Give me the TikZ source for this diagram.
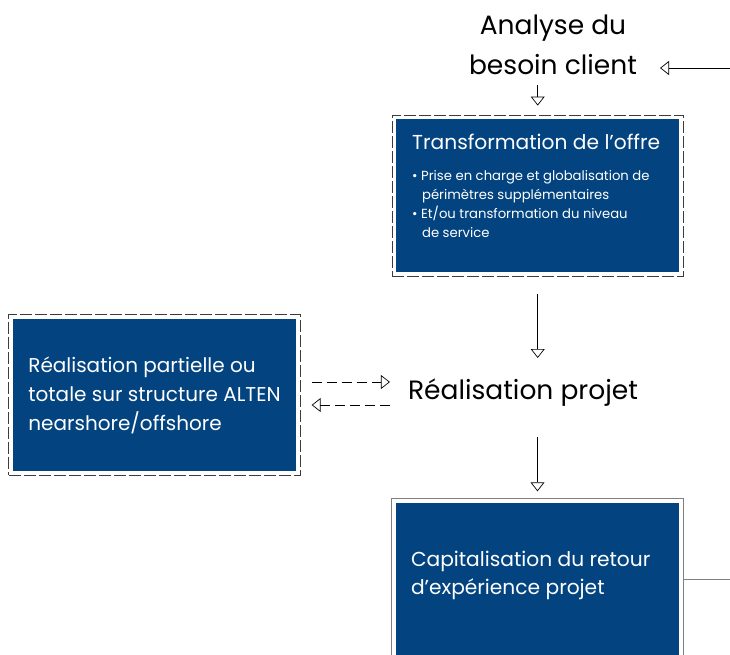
\documentclass[tikz,border=0pt]{standalone}
\usepackage{fontspec}
\setmainfont{Poppins}
\usetikzlibrary{arrows.meta,positioning,fit}
\definecolor{altenblue}{RGB}{3,68,128}
\definecolor{framegray}{RGB}{60,60,60}
\tikzset{
    blue box/.style={
        fill = altenblue,
        text = white,
        inner sep = 0pt
    },
    dash frame/.style={
        draw = framegray,
        line width = 0.9pt,
        dash pattern = on 12pt off 3pt,
        inner sep = 4pt
    },
    plain frame/.style={
        draw = gray,
        line width = 1pt,
        inner sep = 4pt
    },
    flow/.style={
        draw = black,
        line width = 0.7pt,
        -{Triangle[open, width=14pt, length=9pt]}
    },
    step label/.style={
        font = \fontsize{26.5}{40}\selectfont,
        inner sep = 0pt,
        align = center
    }
}
\newcommand{\bul}{\textbullet\ }

\begin{document}
\begin{tikzpicture}[x=1pt, y=-1pt]
    \clip (0,0) rectangle (730,654);

    % top of the chain
    \node[step label] (analyse) at (553,45) {Analyse du\\besoin client};
    \coordinate (entry) at (730,68);
    \coordinate (entrytip) at (660,68);

    % offer box
    \node[blue box, minimum width=283, minimum height=153, anchor=north west] (offre) at (396,119) {};
    \node[dash frame, fit=(offre)] (offreframe) {};
    \node[text=white, inner sep=0pt, align=left, anchor=north west,
          font=\fontsize{20.2}{22}\selectfont,
          below right=15pt and 16pt of offre.north west] (offretitle) {Transformation de l'offre};
    \node[text=white, inner sep=0pt, align=left, anchor=north west,
          font=\fontsize{13.2}{19}\selectfont,
          below right=20pt and 0pt of offretitle.south west] (offretext)
          {\bul Prise en charge et globalisation de\\
           \hspace*{0.75em}périmètres supplémentaires\\
           \bul Et/ou transformation du niveau\\
           \hspace*{0.75em}de service};

    % project
    \node[step label] (projet) at (523,393) {Réalisation projet};

    % nearshore box
    \node[blue box, minimum width=283, minimum height=152, inner xsep=15pt,
          align=left, font=\fontsize{20}{29}\selectfont] (partiel) at (154.5,395)
          {Réalisation partielle ou\\totale sur structure ALTEN\\nearshore/offshore};
    \node[dash frame, fit=(partiel)] (partielframe) {};

    % capitalisation box
    \node[blue box, minimum width=283, minimum height=152] (capi) at (537.5,579) {};
    \node[plain frame, fit=(capi)] (capiframe) {};
    \node[text=white, inner sep=0pt, align=left, anchor=west,
          font=\fontsize{20.2}{28}\selectfont] (capitext) at ([xshift=15pt, yshift=4pt]capi.west)
          {Capitalisation du retour\\d'expérience projet};
    \coordinate (exit) at (730,579);

    % connectors
    \draw[flow] (entry) -- (entrytip);
    \draw[flow, shorten <=10pt, shorten >=9pt] (offreframe.north |- analyse.south) -- (offreframe.north);
    \draw[flow, shorten <=17pt, shorten >=21pt] (offreframe.south) -- (offreframe.south |- projet.north);
    \draw[flow, shorten <=30pt, shorten >=7pt] (projet.south -| capiframe.north) -- (capiframe.north);
    \draw[flow, dashed, dash pattern=on 10pt off 5pt, shorten <=11pt, shorten >=18pt]
        ([yshift=13pt]partielframe.east) -- ([yshift=13pt]partielframe.east -| projet.west);
    \draw[flow, dashed, dash pattern=on 10pt off 5pt, shorten <=18pt, shorten >=11pt]
        ([yshift=-10pt]partielframe.east -| projet.west) -- ([yshift=-10pt]partielframe.east);
    \draw[gray, line width=1pt] (capiframe.east |- exit) -- (exit);
\end{tikzpicture}
\end{document}
